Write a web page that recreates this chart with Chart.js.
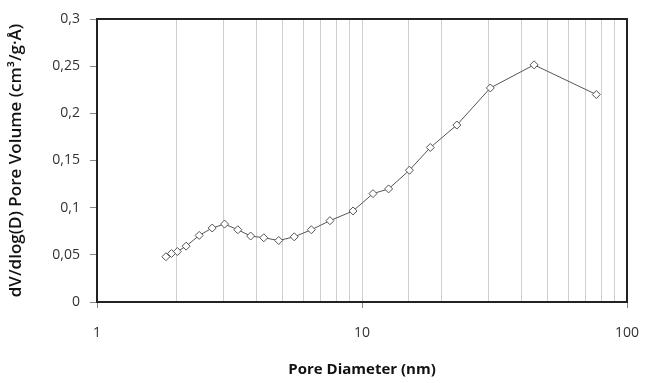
<!DOCTYPE html>
<html>
<head>
<meta charset="utf-8">
<script src="https://cdn.jsdelivr.net/npm/chart.js@4"></script>
<style>
  html, body { margin: 0; padding: 0; background: #fff; }
  #wrap { width: 650px; height: 383px; }
</style>
</head>
<body>
<div id="wrap"><canvas id="poreChart"></canvas></div>
<script>
// Pore diameter (nm) and dV/dlog(D)
const diameters = [1.82, 1.91, 2.01, 2.17, 2.43, 2.72, 3.03, 3.40, 3.80, 4.26, 4.85, 5.55, 6.44, 7.57, 9.25,
  11.0, 12.6, 15.1, 18.1, 22.8, 30.5, 44.6, 76.6];
const poreVolume = [0.048, 0.0514, 0.0535, 0.0592, 0.0706, 0.0784, 0.0826, 0.0766, 0.0699, 0.0681, 0.0652, 0.0691, 0.0766, 0.0862, 0.0965,
  0.1149, 0.1199, 0.1397, 0.1638, 0.1876, 0.2269, 0.2514, 0.2199];
const xLabels = [1, 10, 100];
const yTicks = [0, 0.05, 0.1, 0.15, 0.2, 0.25, 0.3];

const fontFamily = "'Open Sans', sans-serif";

// marco del área de trazado (arriba y derecha)
const frame = {
  id: 'frame',
  afterDatasetsDraw(chart) {
    const a = chart.chartArea;
    const ctx = chart.ctx;
    ctx.save();
    ctx.strokeStyle = '#222';
    ctx.lineWidth = 2;
    ctx.strokeRect(a.left, a.top, a.right - a.left, a.bottom - a.top);
    ctx.restore();
  }
};

const ctx = document.getElementById('poreChart').getContext('2d');
new Chart(ctx, {
  type: 'scatter',
  data: {
    datasets: [{
      data: diameters.map((d, i) => ({ x: d, y: poreVolume[i] })),
      showLine: true,
      borderColor: '#555',
      borderWidth: 1,
      pointStyle: 'rectRot',
      pointRadius: 4,
      pointBackgroundColor: '#fff',
      pointBorderColor: '#555',
      pointBorderWidth: 1
    }]
  },
  options: {
    responsive: true,
    maintainAspectRatio: false,
    animation: false,
    layout: { padding: { left: 0, right: 23, top: 19, bottom: 0 } },
    plugins: { legend: { display: false }, tooltip: { enabled: false } },
    scales: {
      x: {
        type: 'logarithmic',
        min: 1,
        max: 100,
        afterFit(scale) {
          scale.height = 81;
          scale.paddingLeft = 0;
          scale.paddingRight = 0;
        },
        border: { display: false },
        grid: {
          color: '#cfcfcf',
          lineWidth: 1,
          tickLength: 6,
          tickColor: c => xLabels.includes(c.tick && c.tick.value) ? '#888' : 'rgba(0,0,0,0)'
        },
        ticks: {
          autoSkip: false,
          maxRotation: 0,
          padding: 17,
          color: '#333',
          font: { family: fontFamily, size: 14 },
          callback: v => xLabels.includes(v) ? String(v) : ''
        },
        title: {
          display: true,
          text: 'Pore Diameter (nm)',
          color: '#111',
          font: { family: fontFamily, size: 15, weight: 'bold' },
          padding: { top: 6 }
        }
      },
      y: {
        min: 0,
        max: 0.3,
        afterFit(scale) { scale.width = 97; },
        afterBuildTicks(scale) { scale.ticks = yTicks.map(v => ({ value: v })); },
        border: { display: false },
        grid: {
          drawOnChartArea: false,
          tickLength: 7,
          tickColor: '#888'
        },
        ticks: {
          padding: 10,
          color: '#333',
          font: { family: fontFamily, size: 14 },
          callback: v => String(+v.toFixed(2)).replace('.', ',')
        },
        title: {
          display: true,
          text: 'dV/dlog(D) Pore Volume (cm³/g·Å)',
          color: '#111',
          font: { family: fontFamily, size: 17, weight: '600' },
          padding: { top: 6, bottom: 0 }
        }
      }
    }
  },
  plugins: [frame]
});
</script>
</body>
</html>
